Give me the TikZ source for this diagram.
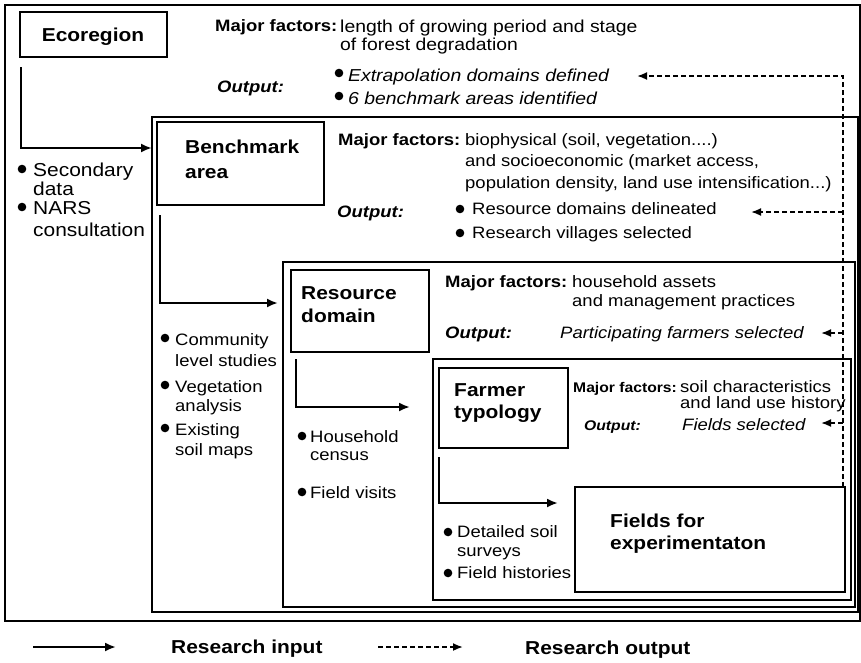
\documentclass[tikz,border=0pt]{standalone}
\usepackage{fontspec}
\setmainfont{Liberation Sans}[FakeStretch=1.12]
\usetikzlibrary{arrows.meta}
\newcommand\mainsz{\fontsize{16.5}{19}\selectfont}
\newcommand\ecosz{\fontsize{17.3}{20}\selectfont}
\newcommand\lblsz{\fontsize{18.7}{22}\selectfont}
\newcommand\smsz{\fontsize{14}{16}\selectfont}
\begin{document}
\begin{tikzpicture}[x=1pt,y=-1pt,
  txt/.style={anchor=west,inner sep=0pt,font=\mainsz,text height=11.8pt,text depth=0pt},
  etxt/.style={txt,font=\ecosz,text height=12.4pt},
  eitx/.style={txt,font=\ecosz\itshape,text height=12.4pt},
  mf/.style={txt,font=\mainsz\bfseries},
  oput/.style={txt,font=\mainsz\bfseries\itshape},
  itx/.style={txt,font=\mainsz\itshape},
  btxt/.style={txt,font=\lblsz,text height=13.4pt},
  lbl/.style={anchor=west,inner sep=0pt,font=\lblsz\bfseries,text height=13.4pt,text depth=0pt},
  smf/.style={anchor=west,inner sep=0pt,font=\smsz\bfseries,text height=10pt,text depth=0pt},
  smo/.style={smf,font=\smsz\bfseries\itshape},
  lblbox/.style={draw,line width=1.8pt,inner sep=0pt,outer sep=0pt},
  frame/.style={draw,line width=2.6pt,inner sep=0pt,outer sep=0pt},
  inarr/.style={draw,line width=2.2pt,-{Latex[length=11pt,width=9pt]}},
  outarr/.style={draw,line width=1.8pt,dash pattern=on 5pt off 3pt,-{Latex[length=10pt,width=8pt]}}
]
\useasboundingbox (0,0) rectangle (861,662);
\fill[white] (0,0) rectangle (861,662);

% frames
\node[frame,minimum width=855pt,minimum height=616pt] (outer) at (432.5,313) {};
\node[frame,minimum width=706pt,minimum height=495pt] (bframe) at (505,364.5) {};
\node[frame,minimum width=572pt,minimum height=345pt] (rframe) at (569,434.5) {};
\node[frame,minimum width=418pt,minimum height=241pt] (fframe) at (642,479.5) {};

% label boxes
\node[lblbox,minimum width=147pt,minimum height=45pt] (ecobox) at (93.5,34.5) {};
\node[lbl,anchor=center] (ecot) at (93,35) {Ecoregion};
\node[lblbox,minimum width=167pt,minimum height=83pt] (benchbox) at (240.5,163.5) {};
\node[lbl] (bt1) at (185,147) {Benchmark};
\node[lbl] (bt2) at (185,172) {area};
\node[lblbox,minimum width=138pt,minimum height=82pt] (resbox) at (360,311) {};
\node[lbl] (rt1) at (301,293) {Resource};
\node[lbl] (rt2) at (301,316) {domain};
\node[lblbox,minimum width=129pt,minimum height=80pt] (farmbox) at (503.5,408) {};
\node[lbl] (ft1) at (454,390) {Farmer};
\node[lbl] (ft2) at (454,412) {typology};
\node[lblbox,minimum width=270pt,minimum height=105pt] (fieldbox) at (710,539.5) {};
\node[lbl] (xt1) at (610,521) {Fields for};
\node[lbl] (xt2) at (610,543) {experimentaton};

% ecoregion texts
\node[mf] (emf) at (215,26) {Major factors:};
\node[etxt] (em1) at (340,26) {length of growing period and stage};
\node[etxt] (em2) at (340,44) {of forest degradation};
\node[oput] (eout) at (217,87) {Output:};
\node[eitx] (eo1) at (348,75) {Extrapolation domains defined};
\node[eitx] (eo2) at (348,98) {6 benchmark areas identified};

% left bullets
\node[btxt] (l1) at (33,170) {Secondary};
\node[btxt] (l2) at (33,189) {data};
\node[btxt] (l3) at (33,208) {NARS};
\node[btxt] (l4) at (33,230) {consultation};

% benchmark texts
\node[mf] (bmf) at (338,140) {Major factors:};
\node[txt] (bm1) at (465,140) {biophysical (soil, vegetation....)};
\node[txt] (bm2) at (465,161) {and socioeconomic (market access,};
\node[txt] (bm3) at (465,183) {population density, land use intensification...)};
\node[oput] (bout) at (337,212) {Output:};
\node[txt] (bo1) at (472,209) {Resource domains delineated};
\node[txt] (bo2) at (472,233) {Research villages selected};

% community bullets
\node[txt] (c1) at (175,340) {Community};
\node[txt] (c2) at (175,361) {level studies};
\node[txt] (c3) at (175,387) {Vegetation};
\node[txt] (c4) at (175,406) {analysis};
\node[txt] (c5) at (175,430) {Existing};
\node[txt] (c6) at (175,450) {soil maps};

% resource texts
\node[mf] (rmf) at (445,282) {Major factors:};
\node[txt] (rm1) at (572,282) {household assets};
\node[txt] (rm2) at (572,301) {and management practices};
\node[oput] (rout) at (445,333) {Output:};
\node[itx] (ro1) at (560,333) {Participating farmers selected};

% household bullets
\node[txt] (h1) at (310,437) {Household};
\node[txt] (h2) at (310,455) {census};
\node[txt] (h3) at (310,493) {Field visits};

% farmer texts
\node[smf] (fmf) at (573,387) {Major factors:};
\node[txt] (fm1) at (680,387) {soil characteristics};
\node[txt] (fm2) at (680,403) {and land use history};
\node[smo] (fout) at (584,425) {Output:};
\node[itx] (fo1) at (682,425) {Fields selected};

% detailed bullets
\node[txt] (d1) at (457,532) {Detailed soil};
\node[txt] (d2) at (457,551) {surveys};
\node[txt] (d3) at (457,573) {Field histories};

% bullets
\foreach \bx/\by in {339/73,339/96,22/169,22/207,460/209,460/233,165/338,165/385,165/428,302/436,302/492,448/532,448/573}
  \fill (\bx,\by) circle[radius=4.3pt];

% input arrows
\coordinate (a1s) at (21,67);   \coordinate (a1e) at (152,148);
\coordinate (a2s) at (160,215); \coordinate (a2e) at (278,303);
\coordinate (a3s) at (296,359); \coordinate (a3e) at (410,407);
\coordinate (a4s) at (439,457); \coordinate (a4e) at (558,503);
\draw[inarr] (a1s) |- (a1e);
\draw[inarr] (a2s) |- (a2e);
\draw[inarr] (a3s) |- (a3e);
\draw[inarr] (a4s) |- (a4e);

% output arrows
\coordinate (dbot) at (843,487);
\coordinate (o1) at (637,76);
\coordinate (b2) at (843,212); \coordinate (o2) at (751,212);
\coordinate (b3) at (843,333); \coordinate (o3) at (821,333);
\coordinate (b4) at (843,423); \coordinate (o4) at (821,423);
\draw[outarr] (dbot) |- (o1);
\draw[outarr] (b2) -- (o2);
\draw[outarr] (b3) -- (o3);
\draw[outarr] (b4) -- (o4);

% legend
\coordinate (lg1s) at (33,647); \coordinate (lg1e) at (116,647);
\coordinate (lg2s) at (378,647); \coordinate (lg2e) at (463,647);
\draw[inarr] (lg1s) -- (lg1e);
\draw[outarr] (lg2s) -- (lg2e);
\node[lbl] (leg1) at (171,647) {Research input};
\node[lbl] (leg2) at (525,648) {Research output};
\end{tikzpicture}
\end{document}
